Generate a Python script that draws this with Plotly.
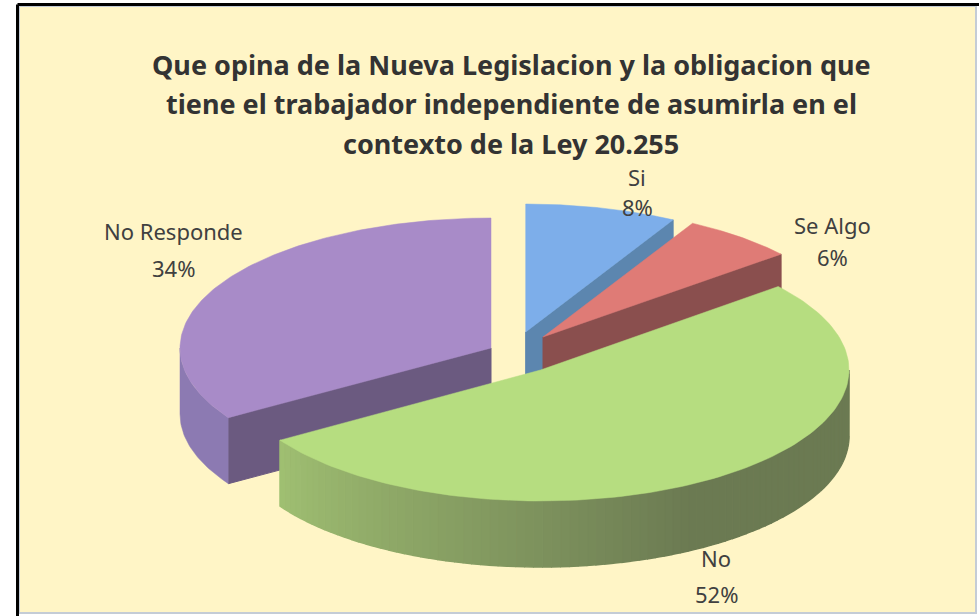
import numpy as np
import plotly.graph_objects as go

# ---- data ----
categories = ["Si", "Se Algo", "No", "No Responde"]
shares = [8, 6, 52, 34]
title_lines = ["Que opina de la Nueva Legislacion y la obligacion que",
               "tiene el trabajador independiente de asumirla en el",
               "contexto de la Ley 20.255"]

# ---- style and layout of the drawing (pixels of the 979x616 page) ----
W, H = 979, 616
RXS = [306, 309, 308.5, 311]
RYS = [128, 130, 131, 130]
DEPTH = 66
apex = [(525.7, 332), (543, 337), (540.5, 370), (491, 348)]
top_col = ["#7DAEEA", "#DF7B76", "#B6DD80", "#A88BC8"]
cut_col = ["#5C86AF", "#8A4F4E", "#9BBB6E", "#6B5A80"]
rim_left = ["#5C86AF", "#8A4F4E", "#A0C072", "#8C7AB2"]
rim_right = ["#5C86AF", "#8A4F4E", "#6B7A52", "#8C7AB2"]
label_lines = [(637, 177, 207), (832, 225, 257), (716, 558, 594), (173, 231, 268)]
PAGE = "#FFF5C6"
TXT = "#404040"

def ell(a, c, i):
    t = np.radians(a)
    return c[0] + RXS[i] * np.sin(t), c[1] - RYS[i] * np.cos(t)

def hexmix(c1, c2, f):
    a = [int(c1[i:i + 2], 16) for i in (1, 3, 5)]
    b = [int(c2[i:i + 2], 16) for i in (1, 3, 5)]
    return "#%02X%02X%02X" % tuple(round(x + (y - x) * f) for x, y in zip(a, b))

fig = go.Figure()

def poly(x, y, col, name="", lw=1):
    fig.add_trace(go.Scatter(x=list(x), y=list(y), mode="lines", fill="toself", fillcolor=col,
                             line=dict(color=col, width=lw), hoverinfo="text", text=name,
                             showlegend=False))

edges = 360 * np.cumsum([0] + shares) / sum(shares)
for i in [3, 0, 1, 2]:
    a0, a1, c, name = edges[i], edges[i + 1], apex[i], f"{categories[i]} {shares[i]}%"
    # visible cut face
    if i in (0, 1, 3):
        a = a0 if i == 3 else a1
        ex, ey = ell(a, c, i)
        poly([c[0], ex, ex, c[0], c[0]], [c[1], ey, ey + DEPTH, c[1] + DEPTH, c[1]], cut_col[i], name)
    # outer rim
    lo, hi = max(a0, 90), min(a1, 270)
    if hi > lo:
        if rim_left[i] == rim_right[i]:
            xs, ys = ell(np.linspace(lo, hi, 40), c, i)
            poly(np.r_[xs, xs[::-1]], np.r_[ys, ys[::-1] + DEPTH], rim_left[i], name, 0.5)
        else:
            steps = np.linspace(lo, hi, 90)
            for k in range(len(steps) - 1):
                xs, ys = ell(np.linspace(steps[k], steps[k + 1], 4), c, i)
                f = np.clip((hi - steps[k]) / (hi - 150), 0, 1)
                poly(np.r_[xs, xs[::-1]], np.r_[ys, ys[::-1] + DEPTH],
                     hexmix(rim_left[i], rim_right[i], f), name, 1.5)
    # top face
    xs, ys = ell(np.linspace(a0, a1, 140), c, i)
    poly(np.r_[c[0], xs, c[0]], np.r_[c[1], ys, c[1]], top_col[i], name, 0.5)

shapes = [
    dict(type="rect", x0=19, y0=6, x1=976, y1=613, fillcolor=PAGE, line=dict(color="#C4CCD6", width=2), layer="below"),
    dict(type="line", x0=17.5, y0=4.5, x1=W, y1=4.5, line=dict(color="#000000", width=3), layer="below"),
    dict(type="line", x0=17.5, y0=4.5, x1=17.5, y1=H, line=dict(color="#000000", width=3), layer="below"),
]

annotations = []
for k, line in enumerate(title_lines):
    annotations.append(dict(x=511, y=64 + 39.5 * k, text=f"<b>{line}</b>", showarrow=False, xanchor="center",
                            yanchor="middle", font=dict(family="Noto Sans", size=27, color="#333333")))
for i, (x, y1, y2) in enumerate(label_lines):
    for y, t in ((y1, categories[i]), (y2, f"{shares[i]}%")):
        annotations.append(dict(x=x, y=y, text=t, showarrow=False, xanchor="center", yanchor="middle",
                                font=dict(family="Noto Sans", size=22, color=TXT)))

fig.update_layout(
    width=W, height=H, margin=dict(l=0, r=0, t=0, b=0), paper_bgcolor="#FFFFFF", plot_bgcolor="#FFFFFF",
    xaxis=dict(range=[0, W], visible=False, fixedrange=True),
    yaxis=dict(range=[H, 0], visible=False, fixedrange=True),
    shapes=shapes, annotations=annotations, showlegend=False,
)
fig.write_html("out.html", config={"displayModeBar": False},
               post_script="document.body.style.margin='0';document.body.style.overflow='hidden';")
